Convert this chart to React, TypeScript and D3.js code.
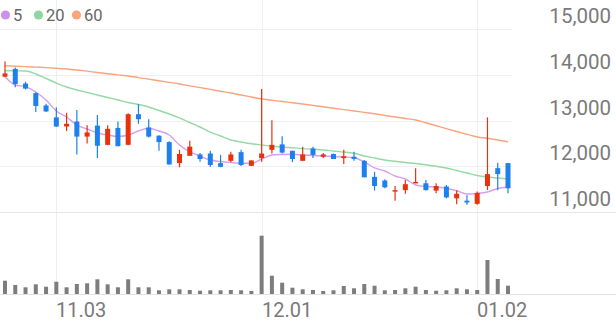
import React from "react";
import * as d3 from "d3";

// ---- data ----
const opens = [13980,14150,13830,13620,13350,13090,12890,13000,12670,12910,12490,12860,12490,13160,12870,12690,12550,12090,12250,12280,12300,12090,12140,12330,12030,12200,12380,12500,12360,12140,12410,12230,12290,12200,12230,12140,11790,11710,11470,11500,11650,11650,11490,11580,11320,11270,11200,11590,11980,12090];
const closes = [14050,13820,13720,13340,13220,12890,12950,12670,12760,12470,12840,12460,13160,13050,12670,12550,12060,12290,12450,12180,12050,12010,12280,12050,12150,12300,12490,12320,12180,12280,12270,12280,12180,12240,12180,11780,11590,11560,11500,11630,11680,11500,11590,11340,11420,11230,11440,11850,11850,11540];
const highs = [14310,14180,13870,13640,13390,13310,13190,13250,12920,13140,12920,13000,13180,13380,13050,12700,12570,12380,12580,12310,12360,12270,12340,12380,12150,13710,13030,12680,12360,12450,12450,12310,12300,12380,12340,12160,11900,11740,11590,11720,11980,11720,11650,11610,11500,11390,11470,13090,12100,12090];
const lows = [13970,13750,13700,13210,13210,12880,12790,12280,12520,12200,12480,12460,12480,12950,12650,12360,12060,12000,12250,12120,12010,12000,12110,12030,12030,12120,12300,12300,12110,12140,12200,12200,12180,12070,12140,11780,11490,11540,11270,11420,11650,11490,11430,11320,11190,11180,11180,11500,11500,11430];
const volumes = [133,90,67,97,73,123,67,100,107,147,97,67,147,67,67,37,47,47,40,33,37,37,40,37,30,583,183,113,63,47,40,30,37,80,57,100,83,37,40,57,73,40,33,37,57,47,40,340,150,83];
const ma5 = [13979,13798,13761,13645,13470,13230,13098,12923,12836,12749,12705,12672,12705,12792,12851,12792,12705,12486,12340,12246,12158,12126,12104,12086,12086,12180,12268,12279,12283,12268,12257,12246,12235,12224,12209,12115,11984,11918,11809,11743,11612,11579,11568,11536,11487,11415,11426,11459,11536,11568];
const ma20 = [14110,14108,14104,14038,13940,13842,13754,13689,13634,13579,13525,13470,13415,13372,13317,13240,13164,13077,12978,12880,12770,12683,12596,12552,12515,12486,12458,12443,12425,12408,12392,12377,12355,12333,12305,12246,12202,12158,12130,12104,12082,12054,12023,11984,11929,11874,11820,11787,11765,11743];
const ma60 = [14220,14209,14200,14189,14178,14165,14148,14126,14100,14071,14045,14019,13995,13960,13925,13890,13855,13820,13780,13741,13702,13662,13623,13579,13536,13492,13466,13437,13411,13383,13352,13321,13291,13260,13230,13199,13168,13133,13098,13066,13033,12972,12908,12843,12781,12720,12661,12633,12596,12558];
const priceTicks = [11000, 12000, 13000, 14000, 15000];
const dateTicks = [{ idx: 5, label: "11.03" }, { idx: 25, label: "12.01" }, { idx: 46, label: "01.02" }];
const legendItems = [{ label: "5", color: "#cc92ea" }, { label: "20", color: "#8fd6a0" }, { label: "60", color: "#f7a57f" }];

const W = 616, H = 321;
const RED = "#e8320e", BLUE = "#1c80ee";

export default function App() {
  const idx = d3.range(opens.length);
  const x = d3.scalePoint<number>().domain(idx).range([5, 508]);
  const y = d3.scaleLinear().domain([11000, 15000]).range([213, 30]);
  const yv = d3.scaleLinear().domain([0, 600]).range([294, 234]);
  const line = (arr: number[]) =>
    d3.line<number>().x((_, i) => x(i)!).y((d) => y(d)).curve(d3.curveMonotoneX)(arr) || "";
  const font = "Roboto, 'Noto Sans', sans-serif";
  const legendX = [0, 33, 71];

  return (
    <svg width={W} height={H} style={{ position: "absolute", left: 0, top: 0, background: "#fff" }}>
      {/* grid */}
      {priceTicks.slice(1).map((t) => (
        <line key={t} x1={0} x2={512} y1={Math.round(y(t)) - 0.5} y2={Math.round(y(t)) - 0.5} stroke="#efefef" />
      ))}
      {dateTicks.map((d) => (
        <line key={d.label} x1={Math.round(x(d.idx)!) + 0.5} x2={Math.round(x(d.idx)!) + 0.5} y1={0} y2={294} stroke="#efefef" />
      ))}
      <line x1={0} x2={W} y1={212.5} y2={212.5} stroke="#e6e6e6" />
      <line x1={0} x2={W} y1={294.5} y2={294.5} stroke="#e2e2e2" />

      {/* volume */}
      {volumes.map((v, i) => (
        <rect key={i} x={x(i)! - 2} width={4} y={yv(v)} height={294 - yv(v)} fill="#7d7d7d" />
      ))}

      {/* moving averages */}
      <path d={line(ma60)} fill="none" stroke="#f8a47e" strokeWidth={1.4} />
      <path d={line(ma20)} fill="none" stroke="#95d9a4" strokeWidth={1.4} />
      <path d={line(ma5)} fill="none" stroke="#d89df2" strokeWidth={1.4} />

      {/* candles */}
      {idx.map((i) => {
        const o = opens[i], c = closes[i];
        const col = c >= o ? RED : BLUE;
        const top = y(Math.max(o, c));
        const h = Math.max(1.5, y(Math.min(o, c)) - top);
        return (
          <g key={i}>
            <line x1={x(i)} x2={x(i)} y1={y(highs[i])} y2={y(lows[i])} stroke={col} strokeWidth={1.2} />
            <rect x={x(i)! - 2.5} width={5} y={top} height={h} fill={col} />
          </g>
        );
      })}

      {/* y axis labels */}
      {priceTicks.map((t) => (
        <text key={t} x={611} y={y(t) - 7} textAnchor="end" fontFamily={font} fontSize={20.5} fill="#7a7a7a">
          {d3.format(",")(t)}
        </text>
      ))}

      {/* x axis labels */}
      {dateTicks.map((d) => (
        <text key={d.label} x={Math.round(x(d.idx)!)} y={316.5} fontFamily={font} fontSize={20} fill="#7a7a7a">
          {d.label}
        </text>
      ))}

      {/* legend */}
      {legendItems.map((l, k) => (
        <g key={l.label} transform={`translate(${legendX[k]},0)`}>
          <circle cx={5.5} cy={15} r={4.6} fill={l.color} />
          <text x={13} y={21} fontFamily={font} fontSize={16.5} fill="#666">{l.label}</text>
        </g>
      ))}
    </svg>
  );
}
